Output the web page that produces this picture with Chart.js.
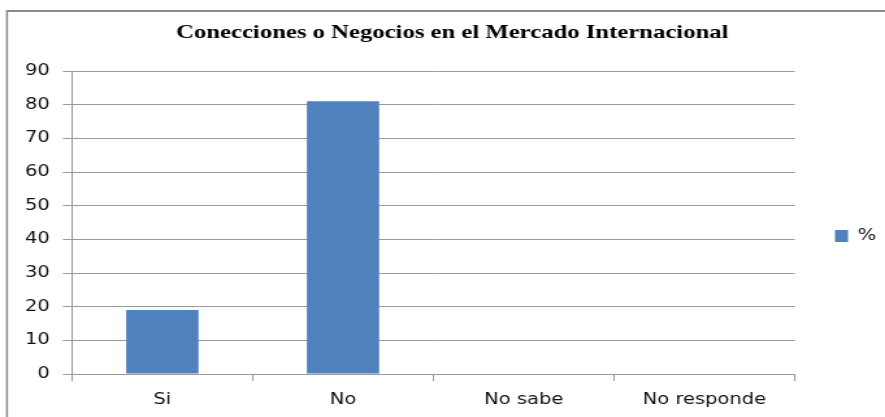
<!DOCTYPE html>
<html>
<head>
<meta charset="utf-8">
<script src="https://cdn.jsdelivr.net/npm/chart.js@4"></script>
<style>
  html, body { margin: 0; padding: 0; background: #fff; overflow: hidden; width: 885px; height: 417px; }
  #chart { position: absolute; left: 0; top: 0; transform-origin: 0 0; transform: scaleX(1.2996); }
</style>
</head>
<body>
<canvas id="chart" width="681" height="472"></canvas>
<script>
// datos del grafico
const chartTitle = "Conecciones o Negocios en el Mercado Internacional";
const categories = ["Si", "No", "No sabe", "No responde"];
const seriesLabel = "%";
const percentValues = [19, 81, 0, 0];
const yMin = 0;
const yMax = 90;
const yStep = 10;

const canvas = document.getElementById("chart");
const gridGray = "#9a9a9a";
const textColor = "#111";

// marco gris del grafico (arriba e izquierda, el resto queda fuera de la foto)
const framePlugin = {
  id: "frame",
  beforeDraw(chart) {
    const ctx = chart.ctx;
    ctx.save();
    ctx.fillStyle = "#fff";
    ctx.fillRect(0, 0, chart.width, chart.height);
    ctx.strokeStyle = "#8a8a8a";
    ctx.lineWidth = 2;
    ctx.beginPath();
    ctx.moveTo(5, 11);
    ctx.lineTo(chart.width, 11);
    ctx.stroke();
    ctx.lineWidth = 1.5;
    ctx.beginPath();
    ctx.moveTo(5.4, 10);
    ctx.lineTo(5.4, chart.height);
    ctx.stroke();
    ctx.restore();
  }
};

const data = {
  labels: categories,
  datasets: [
    {
      label: seriesLabel,
      data: percentValues,
      backgroundColor: "#4F81BD",
      borderWidth: 0,
      categoryPercentage: 1,
      barPercentage: 0.4,
    },
  ],
};

const config = {
  type: "bar",
  data,
  options: {
    responsive: false,
    devicePixelRatio: 1,
    animation: false,
    layout: { padding: { left: 15, right: 0, top: 0, bottom: 0 } },
    plugins: {
      title: {
        display: true,
        text: chartTitle,
        color: "#000",
        font: { family: "'Liberation Serif', serif", size: 19, weight: "bold" },
        padding: { top: 22, bottom: 26.2 },
      },
      legend: {
        position: "right",
        maxWidth: 69.5,
        labels: {
          boxWidth: 10,
          boxHeight: 12,
          padding: 31,
          color: textColor,
          font: { family: "'DejaVu Sans'", size: 15 },
        },
      },
      tooltip: { enabled: false },
    },
    scales: {
      x: {
        grid: {
          offset: true,
          drawOnChartArea: false,
          color: gridGray,
          tickLength: 7,
        },
        border: { color: gridGray },
        ticks: {
          color: textColor,
          padding: 10,
          font: { family: "'DejaVu Sans'", size: 15 },
        },
        afterFit(scale) {
          scale.height = 98;
        },
      },
      y: {
        min: yMin,
        max: yMax,
        ticks: {
          stepSize: yStep,
          color: textColor,
          padding: 10,
          font: { family: "'DejaVu Sans'", size: 15 },
        },
        grid: { color: gridGray, tickLength: 7 },
        border: { color: gridGray },
        afterFit(scale) {
          scale.width = 40.4;
        },
      },
    },
  },
  plugins: [framePlugin],
};

new Chart(canvas, config);
</script>
</body>
</html>
